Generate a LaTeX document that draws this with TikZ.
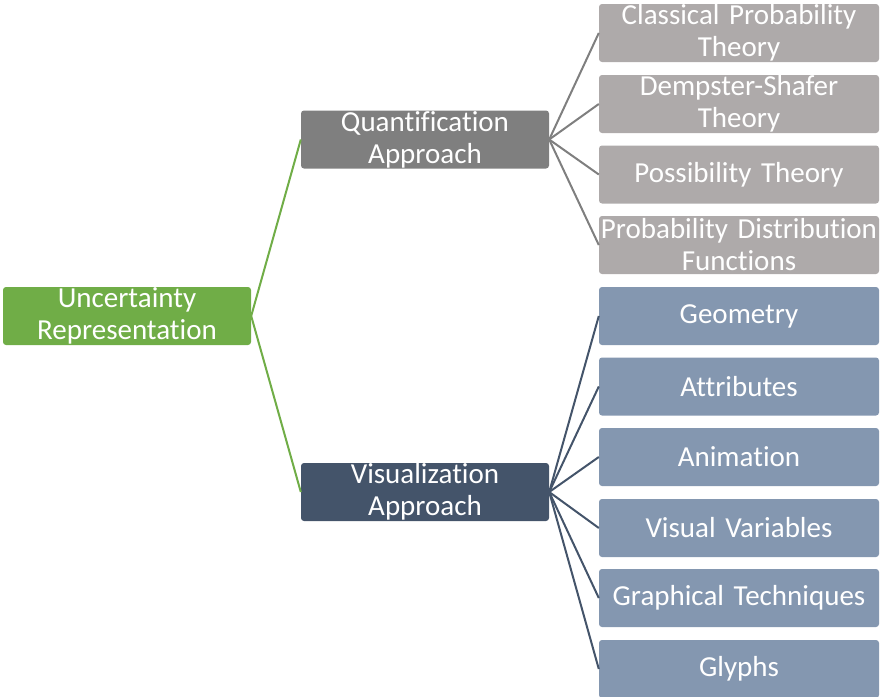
\documentclass[tikz,border=0pt]{standalone}
\usepackage{fontspec}
\setmainfont{Carlito}[Ligatures=CommonOff]
\definecolor{rootgreen}{HTML}{70AD47}
\definecolor{quantgray}{HTML}{7F7F7F}
\definecolor{visdark}{HTML}{44546A}
\definecolor{leafgray}{HTML}{AEAAAA}
\definecolor{leafblue}{HTML}{8497B0}
\begin{document}
\begin{tikzpicture}[x=1pt,y=-1pt,
		box/.style={rounded corners=3pt,text=white,align=center,inner sep=0pt,
			minimum height=58pt,font=\fontsize{29}{32}\selectfont},
		midbox/.style={box,minimum width=248pt,text width=246pt},
		leafbox/.style={box,minimum width=280pt,text width=280pt},
		link/.style={line width=2pt}]
		\useasboundingbox (0,0) rectangle (880,696);
		% root and the two approaches
		\node[midbox,fill=rootgreen] (root) at (127,316) {Uncertainty\\Representation};
		\node[midbox,fill=quantgray] (quant) at (425,139.5) {Quantification\\Approach};
		\node[midbox,fill=visdark] (vis) at (425,492) {Visualization\\Approach};
		% quantification leaves
		\node[leafbox,fill=leafgray] (cpt) at (739,33) {Classical Probability\\Theory};
		\node[leafbox,fill=leafgray] (dst) at (739,104) {Dempster-Shafer\\Theory};
		\node[leafbox,fill=leafgray] (pt) at (739,174.5) {Possibility Theory};
		\node[leafbox,fill=leafgray] (pdf) at (739,245) {Probability Distribution\\Functions};
		% visualization leaves
		\node[leafbox,fill=leafblue] (geo) at (739,316) {Geometry};
		\node[leafbox,fill=leafblue] (attr) at (739,386.5) {Attributes};
		\node[leafbox,fill=leafblue] (anim) at (739,457) {Animation};
		\node[leafbox,fill=leafblue] (vv) at (739,528) {Visual Variables};
		\node[leafbox,fill=leafblue] (gt) at (739,598) {Graphical Techniques};
		\node[leafbox,fill=leafblue] (gly) at (739,669) {Glyphs};
		% connectors
		\draw[link,rootgreen] (root.east) -- (quant.west);
		\draw[link,rootgreen] (root.east) -- (vis.west);
		\foreach \leaf in {cpt,dst,pt,pdf}
			\draw[link,quantgray] (quant.east) -- (\leaf.west);
		\foreach \leaf in {geo,attr,anim,vv,gt,gly}
			\draw[link,visdark] (vis.east) -- (\leaf.west);
	\end{tikzpicture}
\end{document}
